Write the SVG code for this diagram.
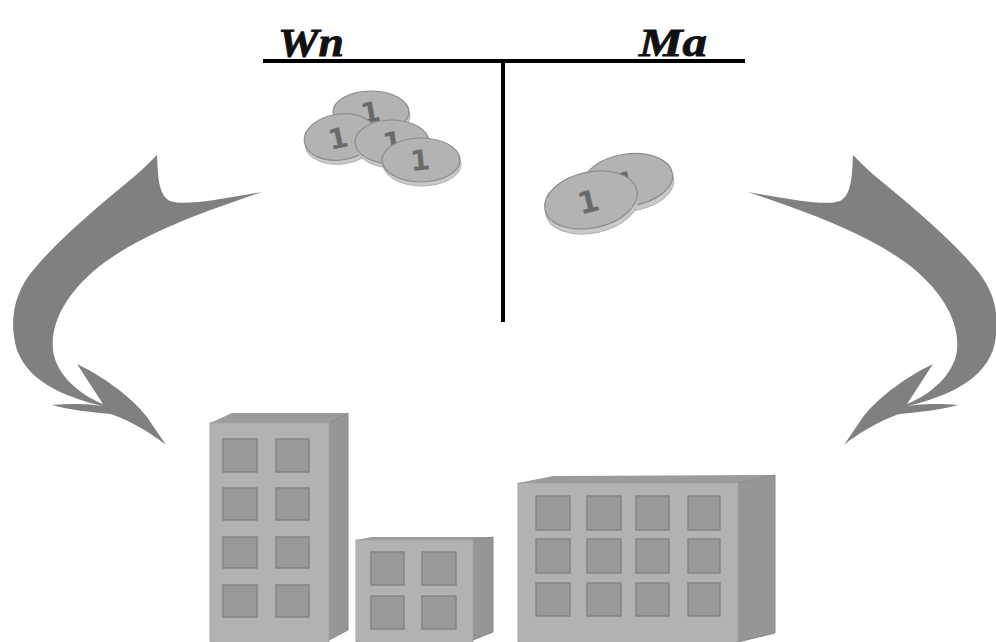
<svg xmlns="http://www.w3.org/2000/svg" width="996" height="642" viewBox="0 0 996 642">
  <style>
    .label { font-family: "Liberation Serif", "DejaVu Serif", serif; font-weight: bold; font-style: italic; font-size: 40px; fill: #111; stroke: #111; stroke-width: 0.8; }
    .rule { stroke: #000; stroke-width: 4; fill: none; }
    .coin-edge { fill: #c9c9c9; stroke: #b0b0b0; stroke-width: 1; }
    .coin { fill: #b3b3b3; stroke: #8c8c8c; stroke-width: 1.2; }
    .coin-num { font-family: "DejaVu Sans", "Liberation Sans", sans-serif; font-weight: bold; font-size: 28px; fill: #6a6a6a; text-anchor: middle; }
    .arrow { fill: #808080; }
    .front { fill: #b2b2b2; stroke: #a4a4a4; stroke-width: 1; }
    .top { fill: #9c9c9c; }
    .side { fill: #969696; stroke: #888; stroke-width: 1; }
    .win { fill: #999; stroke: #858585; stroke-width: 1.5; }
  </style>
  <defs>
    <path id="swoosh" class="arrow" d="M157,155 C158,175 158,195 170,201 C185,206 215,200 262,192 C210,210 150,230 105,262 C70,288 50,320 53,350 C56,375 80,395 103,404 L77,364 C100,375 130,395 147,417 L166,445 C150,432 125,418 110,414 C90,412 70,410 52,405 C75,403 95,404 106,407 C70,398 30,385 17,350 C8,320 15,290 35,268 C60,238 100,205 130,180 C140,172 150,162 157,155 Z"/>
  </defs>
  <rect width="996" height="642" fill="#fff"/>

  <!-- ledger headings and T rule -->
  <g id="ledger">
    <text class="label" x="278" y="56" textLength="66" lengthAdjust="spacingAndGlyphs">Wn</text>
    <text class="label" x="639" y="56" textLength="68" lengthAdjust="spacingAndGlyphs">Ma</text>
    <line class="rule" x1="263" y1="61" x2="745" y2="61"/>
    <line class="rule" x1="503" y1="61" x2="503" y2="322"/>
  </g>

  <!-- coins on the left side -->
  <g id="coins-left">
    <ellipse class="coin-edge" cx="372" cy="116" rx="38" ry="21"/>
    <ellipse class="coin" cx="371" cy="112" rx="38" ry="21"/>
    <text class="coin-num" transform="translate(372,122) rotate(-10)">1</text>
    <ellipse class="coin-edge" cx="341" cy="141" rx="36" ry="23" transform="rotate(-8 341 141)"/>
    <ellipse class="coin" cx="340" cy="137" rx="36" ry="23" transform="rotate(-8 340 137)"/>
    <text class="coin-num" transform="translate(340,148) rotate(-12)">1</text>
    <ellipse class="coin-edge" cx="393" cy="146" rx="37" ry="22"/>
    <ellipse class="coin" cx="392" cy="142" rx="37" ry="22"/>
    <text class="coin-num" transform="translate(394,152) rotate(-8)">1</text>
    <ellipse class="coin-edge" cx="422" cy="164" rx="39" ry="22"/>
    <ellipse class="coin" cx="421" cy="160" rx="39" ry="22"/>
    <text class="coin-num" transform="translate(421,170) rotate(-6)">1</text>
  </g>

  <!-- coins on the right side -->
  <g id="coins-right">
    <ellipse class="coin-edge" cx="629" cy="185" rx="45" ry="26" transform="rotate(-8 629 185)"/>
    <ellipse class="coin" cx="628" cy="180" rx="45" ry="26" transform="rotate(-8 628 180)"/>
    <text class="coin-num" transform="translate(628,192) rotate(-12)">1</text>
    <ellipse class="coin-edge" cx="592" cy="205" rx="47" ry="28" transform="rotate(-12 592 205)"/>
    <ellipse class="coin" cx="591" cy="200" rx="47" ry="28" transform="rotate(-12 591 200)"/>
    <text class="coin-num" transform="translate(591,212) rotate(-14)" style="font-size:30px">1</text>
  </g>

  <!-- curved flow arrows -->
  <g id="connectors">
    <use href="#swoosh"/>
    <use href="#swoosh" transform="translate(1010,0) scale(-1,1)"/>
  </g>

  <!-- tall building -->
  <g id="building-tall">
    <polygon class="top" points="210,423 232,413 348,413 329,423"/>
    <polygon class="side" points="329,423 348,413 348,630 329,640"/>
    <rect class="front" x="210" y="423" width="119" height="219"/>
    <rect class="win" x="223" y="439" width="34" height="33"/>
    <rect class="win" x="276" y="439" width="33" height="33"/>
    <rect class="win" x="223" y="488" width="34" height="32"/>
    <rect class="win" x="276" y="488" width="33" height="32"/>
    <rect class="win" x="223" y="537" width="34" height="31"/>
    <rect class="win" x="276" y="537" width="33" height="31"/>
    <rect class="win" x="223" y="585" width="34" height="32"/>
    <rect class="win" x="276" y="585" width="33" height="32"/>
  </g>

  <!-- small building -->
  <g id="building-small">
    <polygon class="top" points="356,540 372,537 493,537 473,540"/>
    <polygon class="side" points="473,540 493,537 493,632 473,640"/>
    <rect class="front" x="356" y="540" width="117" height="102"/>
    <rect class="win" x="371" y="552" width="33" height="33"/>
    <rect class="win" x="422" y="552" width="34" height="33"/>
    <rect class="win" x="371" y="596" width="33" height="33"/>
    <rect class="win" x="422" y="596" width="34" height="33"/>
  </g>

  <!-- wide building -->
  <g id="building-wide">
    <polygon class="top" points="518,483 553,476 775,475 738,483"/>
    <polygon class="side" points="738,483 775,475 775,633 738,642"/>
    <rect class="front" x="518" y="483" width="220" height="159"/>
    <rect class="win" x="536" y="496" width="34" height="34"/>
    <rect class="win" x="587" y="496" width="34" height="34"/>
    <rect class="win" x="636" y="496" width="33" height="34"/>
    <rect class="win" x="688" y="496" width="32" height="34"/>
    <rect class="win" x="536" y="539" width="34" height="34"/>
    <rect class="win" x="587" y="539" width="34" height="34"/>
    <rect class="win" x="636" y="539" width="33" height="34"/>
    <rect class="win" x="688" y="539" width="32" height="34"/>
    <rect class="win" x="536" y="583" width="34" height="33"/>
    <rect class="win" x="587" y="583" width="34" height="33"/>
    <rect class="win" x="636" y="583" width="33" height="33"/>
    <rect class="win" x="688" y="583" width="32" height="33"/>
  </g>
</svg>
